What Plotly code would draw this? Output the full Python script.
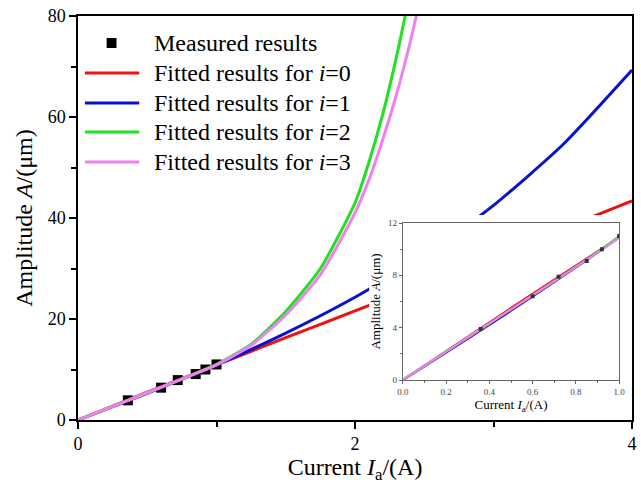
import plotly.graph_objects as go

# Measured data
meas_x = [0.36, 0.60, 0.72, 0.85, 0.92, 1.00]
meas_y = [3.9, 6.4, 7.9, 9.1, 10.0, 11.0]

# Fitted curves
fit0_x = [0, 0.5, 1.0, 1.5, 2.0, 2.5, 3.0, 3.5, 4.0]
fit0_y = [0, 5.5, 10.9, 16.3, 21.6, 27.0, 32.5, 37.9, 43.4]
fit1_x = [0, 0.5, 1.0, 1.5, 2.0, 2.5, 3.0, 3.5, 4.0]
fit1_y = [0, 5.3, 10.9, 17.2, 24.3, 32.5, 42.5, 54.5, 69.3]
fit2_x = [0, 0.25, 0.5, 0.75, 1.0, 1.25, 1.5, 1.75, 2.0, 2.1, 2.2, 2.3, 2.4]
fit2_y = [0, 2.7, 5.4, 8.1, 11.0, 15.0, 21.5, 30.0, 43.0, 51.0, 60.5, 72.0, 85.0]
fit3_x = [0, 0.25, 0.5, 0.75, 1.0, 1.25, 1.5, 1.75, 2.0, 2.1, 2.2, 2.3, 2.4, 2.5]
fit3_y = [0, 2.7, 5.4, 8.1, 10.9, 14.8, 20.8, 28.8, 41.0, 47.5, 55.5, 64.5, 75.0, 87.0]

legend_labels = ["Measured results",
                 "Fitted results for <i>i</i>=0", "Fitted results for <i>i</i>=1",
                 "Fitted results for <i>i</i>=2", "Fitted results for <i>i</i>=3"]
colors = ["#f01010", "#0a10d0", "#22e022", "#f080f0"]
fits = [(fit0_x, fit0_y), (fit1_x, fit1_y), (fit2_x, fit2_y), (fit3_x, fit3_y)]

FONT = "Liberation Serif"

# pixel -> paper helpers for the main plot area (l=78, t=16, w=561, h=404)
def px(x):
    return (x - 78) / 561.0

def py(y):
    return (420 - y) / 404.0

fig = go.Figure()
fig.add_trace(go.Scatter(x=meas_x, y=meas_y, mode="markers", name=legend_labels[0],
                         marker=dict(symbol="square", size=10, color="black"),
                         showlegend=False))
for (fx, fy), nm, c in zip(fits, legend_labels[1:], colors):
    fig.add_trace(go.Scatter(x=fx, y=fy, mode="lines", name=nm, showlegend=False,
                             line=dict(color=c, width=3, shape="spline", smoothing=0.6)))

# white cover behind the inset (own hidden axes, drawn above main traces)
fig.add_trace(go.Scatter(x=[0, 1, 1, 0, 0], y=[0, 0, 1, 1, 0], fill="toself",
                         fillcolor="white", line=dict(width=0), mode="lines",
                         xaxis="x2", yaxis="y2", showlegend=False, hoverinfo="skip"))
# inset curves and points
for (fx, fy), c in zip(fits, colors):
    fig.add_trace(go.Scatter(x=fx, y=fy, mode="lines", xaxis="x3", yaxis="y3",
                             line=dict(color=c, width=2.2, shape="spline", smoothing=0.6),
                             showlegend=False))
fig.add_trace(go.Scatter(x=meas_x, y=meas_y, mode="markers", xaxis="x3", yaxis="y3",
                         marker=dict(symbol="square", size=4, color="#333333"),
                         showlegend=False))

axis_common = dict(showline=True, linecolor="black", linewidth=1.5, mirror=True,
                   ticks="outside", tickcolor="black", tickwidth=1.5, showgrid=False,
                   zeroline=False)
inset_common = dict(showline=True, linecolor="#666", linewidth=1, mirror=True,
                    ticks="outside", tickcolor="#666", showgrid=False, zeroline=False)
hidden = dict(visible=False, showgrid=False, zeroline=False, fixedrange=True)

# manual legend
shapes = []
annotations = []
row_y = [43, 73, 103, 132, 162]
shapes.append(dict(type="rect", xref="paper", yref="paper",
                   x0=px(107), x1=px(117), y0=py(48), y1=py(38),
                   fillcolor="black", line=dict(width=0)))
for yy, c in zip(row_y[1:], colors):
    shapes.append(dict(type="line", xref="paper", yref="paper",
                       x0=px(85), x1=px(140), y0=py(yy), y1=py(yy),
                       line=dict(color=c, width=3)))
for yy, t in zip(row_y, legend_labels):
    annotations.append(dict(text=t, xref="paper", yref="paper", x=px(153), y=py(yy),
                            xanchor="left", yanchor="middle", showarrow=False,
                            font=dict(size=24, family=FONT, color="black")))

fig.update_layout(
    width=641, height=491,
    margin=dict(l=78, r=3, t=16, b=71),
    paper_bgcolor="white", plot_bgcolor="white",
    font=dict(family=FONT, color="black"),
    showlegend=False,
    shapes=shapes, annotations=annotations,
    xaxis=dict(range=[0, 4], dtick=2, ticklen=7, tickfont=dict(size=18),
               minor=dict(dtick=1, ticks="outside", ticklen=5, tickcolor="black", tickwidth=1.5),
               title=dict(text="Current <i>I</i><sub>a</sub>/(A)", font=dict(size=24), standoff=4),
               **axis_common),
    yaxis=dict(range=[0, 80], dtick=20, ticklen=7, tickfont=dict(size=18),
               minor=dict(dtick=10, ticks="outside", ticklen=5, tickcolor="black", tickwidth=1.5),
               title=dict(text="Amplitude <i>A</i>/(μm)", font=dict(size=24), standoff=8),
               **axis_common),
    xaxis2=dict(domain=[px(373), px(636)], anchor="y2", range=[0, 1], **hidden),
    yaxis2=dict(domain=[py(418), py(215)], anchor="x2", range=[0, 1], **hidden),
    xaxis3=dict(domain=[px(407), px(626)], anchor="y3", range=[0, 1], dtick=0.2,
                tickformat=".1f", ticklen=3, tickfont=dict(size=9, color="#444"),
                minor=dict(dtick=0.1, ticks="outside", ticklen=2, tickcolor="#666"),
                title=dict(text="Current <i>I</i><sub>a</sub>/(A)", font=dict(size=13), standoff=2),
                **inset_common),
    yaxis3=dict(domain=[py(380), py(223)], anchor="x3", range=[0, 12], dtick=4,
                ticklen=3, tickfont=dict(size=9, color="#444"),
                minor=dict(dtick=2, ticks="outside", ticklen=2, tickcolor="#666"),
                title=dict(text="Amplitude <i>A</i>/(μm)", font=dict(size=13), standoff=4),
                **inset_common),
)

fig.write_html("out.html")
